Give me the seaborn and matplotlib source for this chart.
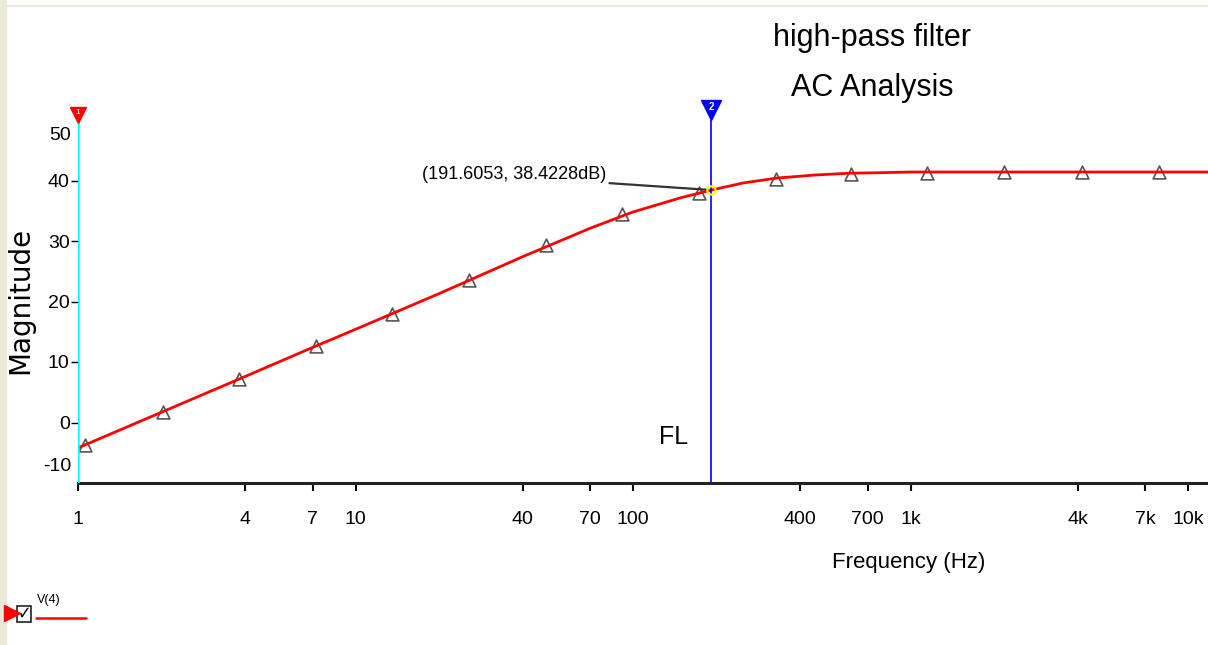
import numpy as np
import pandas as pd
import seaborn as sns
import matplotlib
matplotlib.use("Agg")
import matplotlib.pyplot as plt
from matplotlib.lines import Line2D
from matplotlib.patches import Rectangle

# ============================================
# DATA
# ============================================

freq = [1, 2, 4, 7, 10, 20, 40, 70, 100, 150, 191.6053, 250, 330,
        450, 600, 800, 1000, 2000, 5000, 12000]
mag = [-4.2, 1.7, 7.6, 12.4, 15.4, 21.3, 27.4, 32.1, 34.8, 37.2, 38.4228,
       39.6, 40.4, 40.9, 41.2, 41.3, 41.4, 41.4, 41.4, 41.4]

marker_freq = [1.06, 2.02, 3.8, 7.2, 13.5, 25.7, 48.6, 91.4, 173, 328,
               612, 1150, 2170, 4140, 7870]
marker_mag = [-3.7, 1.8, 7.2, 12.7, 18.0, 23.6, 29.3, 34.4, 37.9, 40.2,
              41.1, 41.3, 41.4, 41.4, 41.4]

xtick_vals = [1, 4, 7, 10, 40, 70, 100, 400, 700, 1000, 4000, 7000, 10000]
xtick_labels = ["1", "4", "7", "10", "40", "70", "100", "400", "700",
                "1k", "4k", "7k", "10k"]
ytick_vals = [0, 10, 20, 30, 40]

cursor1 = 1
cursor2 = 191.6053
cursor2_mag = 38.4228

# ============================================
# STYLE
# ============================================

sns.set_style("white")
plt.rcParams["font.family"] = ["Liberation Sans Narrow", "Liberation Sans",
                               "DejaVu Sans"]
plt.rcParams["font.stretch"] = "condensed"
plt.rcParams["text.color"] = "black"
plt.rcParams["axes.labelcolor"] = "black"

df = pd.DataFrame({"Frequency": freq, "Magnitude": mag})
dm = pd.DataFrame({"Frequency": marker_freq, "Magnitude": marker_mag})

fig = plt.figure(figsize=(12.08, 6.45), dpi=100)
ax = fig.add_axes([78 / 1208, 1 - 483 / 645, 1 - 78 / 1208, (483 - 120) / 645])

# markers under the curve
sns.scatterplot(data=dm, x="Frequency", y="Magnitude", ax=ax, marker="^",
                s=85, facecolor="white", edgecolor="#555555", linewidth=1.2,
                zorder=3)
sns.lineplot(data=df, x="Frequency", y="Magnitude", ax=ax, color="#ff0000",
             linewidth=2, zorder=4)

ax.set_xscale("log")
ax.set_xlim(1, 11800)
ax.set_ylim(-10, 50)

# cursors
ax.axvline(cursor1, color="#00ffff", linewidth=1.8, zorder=5)
ax.axvline(cursor2, color="#0000ff", linewidth=1.2, zorder=5)
ax.plot([cursor1], [50.8], marker="v", color="#ff0000", markersize=11,
        clip_on=False, zorder=6)
ax.text(cursor1, 51.2, "1", color="white", fontsize=6, ha="center",
        va="center", zorder=7, clip_on=False)
ax.plot([cursor2], [51.6], marker="v", color="#0000ff", markersize=15,
        clip_on=False, zorder=6)
ax.text(cursor2, 52.1, "2", color="white", fontsize=7, ha="center",
        va="center", zorder=7, fontweight="bold", clip_on=False)
ax.plot([cursor2], [cursor2_mag], marker="o", markersize=6, mfc="none",
        mec="#ffff00", mew=1.5, zorder=6)

# cursor readout
ax.annotate("(191.6053, 38.4228dB)", xy=(cursor2, cursor2_mag),
            xytext=(80, 39.6), ha="right", va="bottom", fontsize=13,
            arrowprops=dict(arrowstyle="-", color="#333333", lw=1.6,
                            shrinkA=0, shrinkB=3, relpos=(1, 0)))
ax.text(140, -2.4, "FL", fontsize=18, ha="center", va="center")

# axes
sns.despine(ax=ax, left=True)
ax.spines["bottom"].set_linewidth(2.2)
ax.spines["bottom"].set_color("#222222")
ax.set_xticks(xtick_vals)
ax.set_xticklabels(xtick_labels)
ax.xaxis.set_minor_locator(matplotlib.ticker.NullLocator())
ax.set_yticks(ytick_vals)
ax.set_yticklabels([str(v) for v in ytick_vals])
ax.tick_params(axis="x", direction="out", length=6, width=1.5, pad=14,
               labelsize=14, bottom=True, colors="black")
ax.tick_params(axis="y", direction="out", length=5, width=1, pad=1,
               labelsize=14, left=True, colors="black")
ax.text(-0.006, 47.4, "50", transform=ax.get_yaxis_transform(), ha="right",
        va="center", fontsize=14)
ax.text(-0.006, -7.2, "-10", transform=ax.get_yaxis_transform(), ha="right",
        va="center", fontsize=14)

ax.set_xlabel("Frequency (Hz)", fontsize=16)
ax.xaxis.set_label_coords(0.735, -0.19)
ax.set_ylabel("")
fig.text(20 / 1208, 1 - 300 / 645, "Magnitude", rotation=90, fontsize=20,
         family="DejaVu Sans", stretch="normal", ha="center", va="center")

# title
fig.text(872 / 1208, 1 - 38 / 645, "high-pass filter", fontsize=22,
         ha="center", va="center")
fig.text(872 / 1208, 1 - 88 / 645, "AC Analysis", fontsize=22,
         ha="center", va="center")

# window frame bits
fig.add_artist(Rectangle((0, 0), 6 / 1208, 1, transform=fig.transFigure,
                         color="#ece9d8", zorder=0))
fig.add_artist(Line2D([6 / 1208, 1], [1 - 6 / 645, 1 - 6 / 645],
                      transform=fig.transFigure, color="#ece9d8", lw=1.5))

# trace legend
fig.add_artist(Line2D([12 / 1208], [1 - 613 / 645], marker=">",
                      color="#ff0000", markersize=11, transform=fig.transFigure))
fig.add_artist(Rectangle((17 / 1208, 1 - 622 / 645), 14 / 1208, 16 / 645,
                         transform=fig.transFigure, fill=False,
                         edgecolor="#222222", lw=1.2))
fig.text(24 / 1208, 1 - 614 / 645, "\u2713", fontsize=13, fontweight="bold",
         family="DejaVu Sans", ha="center", va="center")
fig.text(37 / 1208, 1 - 600 / 645, "V(4)", fontsize=9, ha="left",
         va="center")
fig.add_artist(Line2D([36 / 1208, 86 / 1208], [1 - 618 / 645, 1 - 618 / 645],
                      transform=fig.transFigure, color="#ff0000", lw=1.8))

fig.savefig("out.png", dpi=100)
